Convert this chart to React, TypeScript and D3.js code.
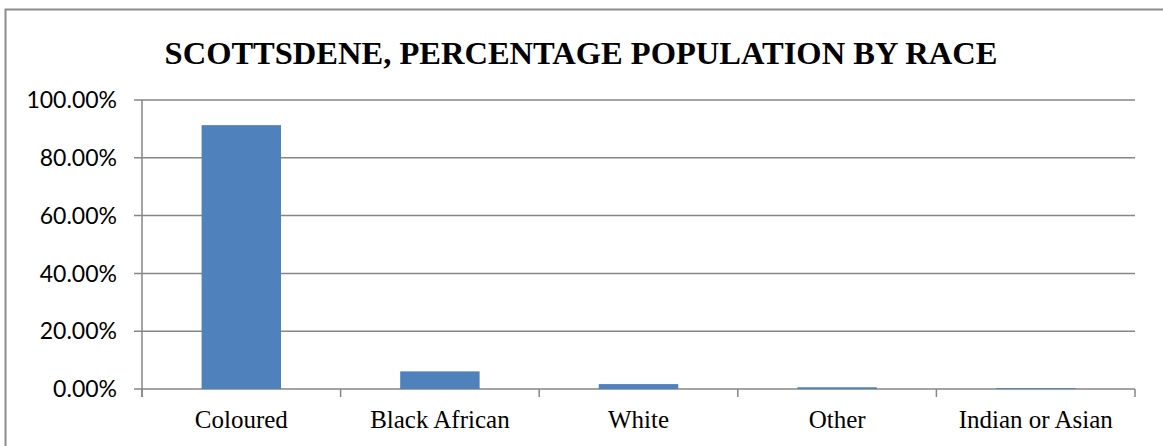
import React from "react";
import * as d3 from "d3";

// Share of Scottsdene residents by population group (percent)
const categories: string[] = ["Coloured", "Black African", "White", "Other", "Indian or Asian"];
const shares: number[] = [91.3, 6.1, 1.7, 0.6, 0.3];
const yTicks: number[] = [0, 20, 40, 60, 80, 100];
const title = "SCOTTSDENE, PERCENTAGE POPULATION BY RACE";

const W = 1163;
const H = 446;
const plot = { left: 142, right: 1135, top: 100, bottom: 389 };

export default function App() {
  const x = d3
    .scaleBand<string>()
    .domain(categories)
    .range([plot.left, plot.right])
    .paddingInner(0.6)
    .paddingOuter(0.3);
  const y = d3.scaleLinear().domain([0, 100]).range([plot.bottom, plot.top]);
  const step = (plot.right - plot.left) / categories.length;
  const fmt = (v: number) => d3.format(".2f")(v) + "%";
  const grid = "#868686";

  return (
    <svg
      width={W}
      height={H}
      style={{ position: "absolute", left: 0, top: 0, background: "#fff" }}
    >
      <rect x={0} y={0} width={W} height={H} fill="#fff" />
      {/* chart frame */}
      <rect x={5.5} y={9.5} width={W + 20} height={H + 20} fill="none" stroke="#8c8c8c" strokeWidth={2} />

      <text
        x={581}
        y={64}
        textAnchor="middle"
        fontFamily="'Liberation Serif', 'Times New Roman', serif"
        fontWeight="bold"
        fontSize={32.5}
        fill="#000"
      >
        {title}
      </text>

      {/* horizontal gridlines and value labels */}
      {yTicks.map((t) => (
        <g key={t}>
          <line
            x1={plot.left - 8}
            x2={plot.right}
            y1={y(t)}
            y2={y(t)}
            stroke={grid}
            strokeWidth={1.5}
          />
          <text
            x={117}
            y={y(t)}
            dy="0.36em"
            textAnchor="end"
            fontFamily="Lato, 'Open Sans', sans-serif"
            fontSize={23}
            fill="#000"
          >
            {fmt(t)}
          </text>
        </g>
      ))}

      {/* value axis */}
      <line x1={plot.left} x2={plot.left} y1={plot.top} y2={plot.bottom + 8} stroke={grid} strokeWidth={1.5} />

      {/* category ticks */}
      {d3.range(categories.length + 1).map((i) => (
        <line
          key={i}
          x1={plot.left + i * step}
          x2={plot.left + i * step}
          y1={plot.bottom}
          y2={plot.bottom + 8}
          stroke={grid}
          strokeWidth={1.5}
        />
      ))}

      {/* bars */}
      {categories.map((c, i) => (
        <rect
          key={c}
          x={x(c)}
          y={y(shares[i])}
          width={x.bandwidth()}
          height={plot.bottom - y(shares[i])}
          fill="#4F81BD"
        />
      ))}

      {/* category labels */}
      {categories.map((c) => (
        <text
          key={c}
          x={(x(c) as number) + x.bandwidth() / 2}
          y={428}
          textAnchor="middle"
          fontFamily="'Liberation Serif', 'Times New Roman', serif"
          fontSize={25}
          fill="#000"
        >
          {c}
        </text>
      ))}
    </svg>
  );
}
